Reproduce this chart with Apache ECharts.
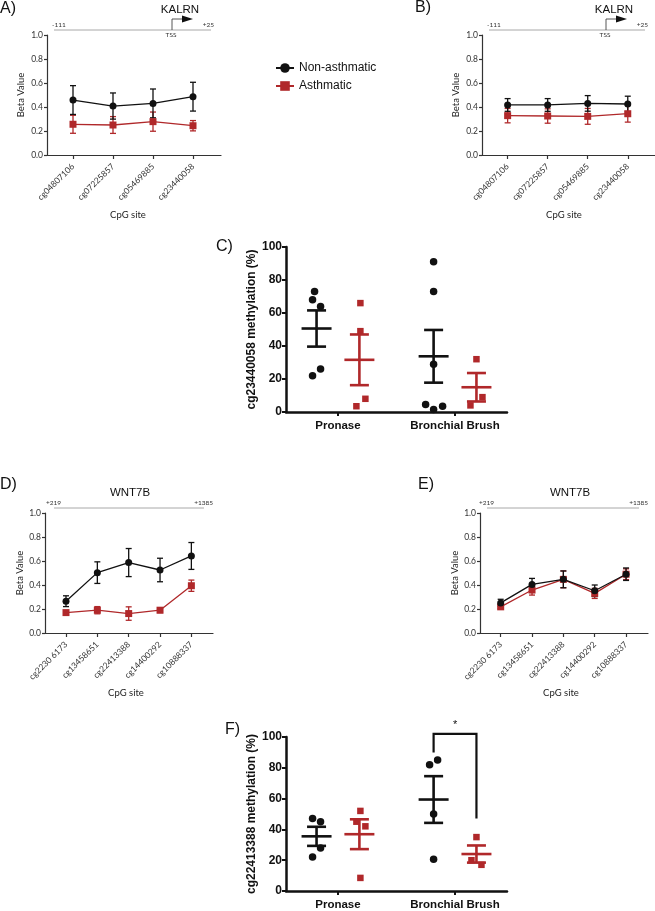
<!DOCTYPE html>
<html><head><meta charset="utf-8">
<script src="https://cdn.jsdelivr.net/npm/echarts@6/dist/echarts.min.js"></script>
<style>html,body{margin:0;padding:0;background:#fff}#chart{width:655px;height:911px}</style>
</head><body><div id="chart"></div>
<script>
// ---------- data ----------
const cpgKalrn = ['cg04807106', 'cg07225857', 'cg05469885', 'cg23440058'];
const aNonMean = [0.458, 0.408, 0.43, 0.486];
const aNonErr  = [0.12, 0.109, 0.12, 0.12];
const aAstMean = [0.256, 0.25, 0.278, 0.244];
const aAstErr  = [0.075, 0.07, 0.08, 0.043];
const bNonMean = [0.417, 0.417, 0.43, 0.425];
const bNonErr  = [0.053, 0.053, 0.065, 0.065];
const bAstMean = [0.328, 0.325, 0.322, 0.344];
const bAstErr  = [0.06, 0.06, 0.066, 0.07];

const cpgWnt = ['cg2230 6173', 'cg13458651', 'cg22413388', 'cg14400292', 'cg10888337'];
const dNonMean = [0.265, 0.503, 0.587, 0.525, 0.642];
const dNonErr  = [0.045, 0.09, 0.117, 0.098, 0.112];
const dAstMean = [0.17, 0.19, 0.162, 0.19, 0.394];
const dAstErr  = [0.012, 0.03, 0.056, 0.02, 0.047];
const eNonMean = [0.251, 0.405, 0.447, 0.352, 0.49];
const eNonErr  = [0.03, 0.05, 0.07, 0.048, 0.052];
const eAstMean = [0.218, 0.358, 0.447, 0.33, 0.49];
const eAstErr  = [0.015, 0.042, 0.07, 0.042, 0.045];

const sampleGroups = ['Pronase', 'Bronchial Brush'];
const cPronNon = [73, 68, 64, 22, 26];
const cPronAst = [66, 49, 8, 3.5];
const cBronNon = [91, 73, 29, 4.5, 1.5, 3.5];
const cBronAst = [32, 4, 9];
const fPronNon = [47, 45, 28, 22];
const fPronAst = [52, 45, 42, 8.5];
const fBronNon = [82, 85, 50, 20.6];
const fBronAst = [35, 20, 17];

const yTicksBeta = [0, 0.2, 0.4, 0.6, 0.8, 1.0];

// ---------- styling (pixel jitter of dots, not data) ----------
const cPronNonJit = [-2, -4, 4, -4, 4];
const cPronAstJit = [1, 1, 6, -3];
const cBronNonJit = [0, 0, 0, -8, 0, 9];
const cBronAstJit = [0, -6, 6];
const fPronNonJit = [-4, 4, 4, -4];
const fPronAstJit = [1, -3, 6, 1];
const fBronNonJit = [-4, 4, 0, 0];
const fBronAstJit = [0, -5, 5];

const BLACK = '#111', RED = '#b0282a', AX = '#333';
const SMALL = 'Lato';
const SIDE = 0.183;

function errBar(color, capW, lw) {
  return function (params, api) {
    const x = api.value(0), m = api.value(1), e = api.value(2);
    const hi = api.coord([x, m + e]), lo = api.coord([x, m - e]);
    const cx = hi[0];
    const style = { stroke: color, lineWidth: lw };
    return { type: 'group', children: [
      { type: 'line', shape: { x1: cx, y1: hi[1], x2: cx, y2: lo[1] }, style },
      { type: 'line', shape: { x1: cx - capW, y1: hi[1], x2: cx + capW, y2: hi[1] }, style },
      { type: 'line', shape: { x1: cx - capW, y1: lo[1], x2: cx + capW, y2: lo[1] }, style }
    ]};
  };
}
function meanSem(color) {
  return function (params, api) {
    const x = api.value(0), m = api.value(1), s = api.value(2);
    const c = api.coord([x, m]), hi = api.coord([x, m + s]), lo = api.coord([x, m - s]);
    const style = { stroke: color, lineWidth: 2.6 };
    return { type: 'group', children: [
      { type: 'line', shape: { x1: c[0] - 15, y1: c[1], x2: c[0] + 15, y2: c[1] }, style },
      { type: 'line', shape: { x1: c[0], y1: hi[1], x2: c[0], y2: lo[1] }, style },
      { type: 'line', shape: { x1: c[0] - 9.5, y1: hi[1], x2: c[0] + 9.5, y2: hi[1] }, style },
      { type: 'line', shape: { x1: c[0] - 9.5, y1: lo[1], x2: c[0] + 9.5, y2: lo[1] }, style }
    ]};
  };
}
const mean = a => a.reduce((s, v) => s + v, 0) / a.length;
const sem = a => { const m = mean(a); return Math.sqrt(a.reduce((s, v) => s + (v - m) * (v - m), 0) / (a.length - 1) / a.length); };

function lineXAxis(g, min, max, labels) {
  const idx = labels.map((_, i) => i);
  return { type: 'value', gridIndex: g, min, max, splitLine: { show: false },
    axisLine: { onZero: false, lineStyle: { color: AX, width: 1.2 } },
    axisTick: { customValues: idx, length: 4, lineStyle: { color: AX, width: 1.2 } },
    axisLabel: { customValues: idx, formatter: v => labels[Math.round(v)] ?? '', rotate: 45, fontSize: 8.5,
      color: '#333', fontFamily: SMALL, margin: 10 } };
}
function betaYAxis(g, gap) {
  return { type: 'value', gridIndex: g, min: 0, max: 1, splitLine: { show: false },
    axisLine: { show: true, onZero: false, lineStyle: { color: AX, width: 1.2 } },
    axisTick: { show: true, customValues: yTicksBeta, length: 3, lineStyle: { color: AX, width: 1.2 } },
    axisLabel: { customValues: yTicksBeta, formatter: v => v.toFixed(1), fontSize: 8.5, color: '#333', fontFamily: SMALL, margin: 4 },
    name: 'Beta Value', nameLocation: 'middle', nameGap: gap,
    nameTextStyle: { fontSize: 9.5, color: '#222', fontFamily: SMALL } };
}
function pctXAxis(g) {
  return { type: 'value', gridIndex: g, min: -0.444, max: 1.444, splitLine: { show: false },
    axisLine: { onZero: false, lineStyle: { color: BLACK, width: 2.5 } },
    axisTick: { customValues: [0, 1], length: 4, lineStyle: { color: BLACK, width: 2 } },
    axisLabel: { customValues: [0, 1], formatter: v => sampleGroups[Math.round(v)] ?? '', fontSize: 11.5,
      fontWeight: 'bold', color: BLACK, margin: 8 } };
}
function pctYAxis(g, name) {
  return { type: 'value', gridIndex: g, min: 0, max: 100, interval: 20, splitLine: { show: false },
    axisLine: { show: true, onZero: false, lineStyle: { color: BLACK, width: 2.5 } },
    axisTick: { show: true, length: 4, lineStyle: { color: BLACK, width: 2 } },
    axisLabel: { fontSize: 12, fontWeight: 'bold', color: BLACK, margin: 4 },
    name, nameLocation: 'middle', nameGap: 25,
    nameTextStyle: { fontSize: 12, fontWeight: 'bold', color: BLACK } };
}

function linePanel(g, nM, nE, aM, aE) {
  const pts = arr => arr.map((v, i) => [i, v]);
  const eb = (m, e) => m.map((v, i) => [i, v, e[i]]);
  return [
    { type: 'custom', xAxisIndex: g, yAxisIndex: g, renderItem: errBar(RED, 3, 1.3), data: eb(aM, aE), encode: { x: 0, y: 1 }, z: 2, silent: true },
    { type: 'custom', xAxisIndex: g, yAxisIndex: g, renderItem: errBar(BLACK, 3, 1.3), data: eb(nM, nE), encode: { x: 0, y: 1 }, z: 3, silent: true },
    { type: 'line', name: 'Asthmatic', xAxisIndex: g, yAxisIndex: g, data: pts(aM), symbol: 'rect', symbolSize: 7,
      lineStyle: { color: RED, width: 1.3 }, itemStyle: { color: RED }, z: 4 },
    { type: 'line', name: 'Non-asthmatic', xAxisIndex: g, yAxisIndex: g, data: pts(nM), symbol: 'circle', symbolSize: 7,
      lineStyle: { color: BLACK, width: 1.3 }, itemStyle: { color: BLACK }, z: 5 }
  ];
}
function dotPanel(g, sets) {
  const out = [];
  sets.forEach(([vals, jit, gi, side, color, sym]) => {
    const x = gi + side;
    out.push({ type: 'scatter', xAxisIndex: g, yAxisIndex: g, symbol: sym, symbolSize: sym === 'circle' ? 7.5 : 6.5,
      itemStyle: { color, opacity: 1 }, z: 3,
      data: vals.map((v, i) => ({ value: [x, v], symbolOffset: [jit[i], 0] })) });
    out.push({ type: 'custom', xAxisIndex: g, yAxisIndex: g, renderItem: meanSem(color), z: 4, silent: true,
      data: [[x, mean(vals), sem(vals)]], encode: { x: 0, y: 1 } });
  });
  return out;
}

const series = [
  ...linePanel(0, aNonMean, aNonErr, aAstMean, aAstErr),
  ...linePanel(1, bNonMean, bNonErr, bAstMean, bAstErr),
  ...dotPanel(2, [
    [cPronNon, cPronNonJit, 0, -SIDE, BLACK, 'circle'],
    [cPronAst, cPronAstJit, 0, SIDE, RED, 'rect'],
    [cBronNon, cBronNonJit, 1, -SIDE, BLACK, 'circle'],
    [cBronAst, cBronAstJit, 1, SIDE, RED, 'rect']
  ]),
  ...linePanel(3, dNonMean, dNonErr, dAstMean, dAstErr),
  ...linePanel(4, eNonMean, eNonErr, eAstMean, eAstErr),
  ...dotPanel(5, [
    [fPronNon, fPronNonJit, 0, -SIDE, BLACK, 'circle'],
    [fPronAst, fPronAstJit, 0, SIDE, RED, 'rect'],
    [fBronNon, fBronNonJit, 1, -SIDE, BLACK, 'circle'],
    [fBronAst, fBronAstJit, 1, SIDE, RED, 'rect']
  ]),
  { type: 'custom', xAxisIndex: 5, yAxisIndex: 5, clip: false, silent: true, z: 5,
    data: [[1 - SIDE, 1 + SIDE, 90, 47, 102]], encode: { x: 0, y: 4 },
    renderItem: (params, api) => {
      const l0 = api.coord([api.value(0), api.value(2)]);
      const l1 = api.coord([api.value(0), api.value(4)]);
      const r1 = api.coord([api.value(1), api.value(4)]);
      const r0 = api.coord([api.value(1), api.value(3)]);
      return { type: 'group', children: [
        { type: 'polyline', shape: { points: [l0, l1, r1, r0] }, style: { stroke: BLACK, lineWidth: 2.2, fill: null } },
        { type: 'text', style: { text: '*', x: (l1[0] + r1[0]) / 2, y: l1[1] - 3, align: 'center', verticalAlign: 'bottom', fontSize: 11, fill: BLACK } }
      ]};
    } }
];

function geneGraphics(x0, x1, leftTxt, rightTxt) {
  return [
    { type: 'line', shape: { x1: x0, y1: 30, x2: x1, y2: 30 }, style: { stroke: '#a8a8a8', lineWidth: 1 } },
    { type: 'text', x: x0 - 2, y: 25, style: { text: leftTxt, fontSize: 6.5, fill: '#333', align: 'left', verticalAlign: 'middle', fontFamily: SMALL } },
    { type: 'text', x: x1 + 3, y: 25, style: { text: rightTxt, fontSize: 6.5, fill: '#333', align: 'right', verticalAlign: 'middle', fontFamily: SMALL } }
  ];
}
function tss(x, labelX) {
  return [
    { type: 'polyline', shape: { points: [[x, 30], [x, 19], [x + 11, 19]] }, style: { stroke: '#444', lineWidth: 0.9, fill: null } },
    { type: 'polygon', shape: { points: [[x + 10, 15.5], [x + 21, 19], [x + 10, 22.5]] }, style: { fill: '#111' } },
    { type: 'text', x: x - 1, y: 34.5, style: { text: 'TSS', fontSize: 6.5, fill: '#333', align: 'center', verticalAlign: 'middle', fontFamily: SMALL } },
    { type: 'text', x: labelX, y: 10, style: { text: 'KALRN', fontSize: 11.5, fill: '#111', align: 'center', verticalAlign: 'middle', fontFamily: 'Liberation Sans' } }
  ];
}
function wnt(cx, x0, x1) {
  return [
    { type: 'text', x: cx, y: 493, style: { text: 'WNT7B', fontSize: 11.5, fill: '#111', align: 'center', verticalAlign: 'middle', fontFamily: 'Liberation Sans' } },
    { type: 'line', shape: { x1: x0, y1: 508, x2: x1, y2: 508 }, style: { stroke: '#a8a8a8', lineWidth: 1 } },
    { type: 'text', x: x0 - 8, y: 503, style: { text: '+219', fontSize: 6.5, fill: '#333', align: 'left', verticalAlign: 'middle', fontFamily: SMALL } },
    { type: 'text', x: x1 + 9, y: 503, style: { text: '+1385', fontSize: 6.5, fill: '#333', align: 'right', verticalAlign: 'middle', fontFamily: SMALL } }
  ];
}
const panelLabel = (t, x, y) => ({ type: 'text', x, y, style: { text: t, fontSize: 16, fill: '#111', align: 'left', verticalAlign: 'middle', fontFamily: 'Liberation Sans' } });
const cpgLabel = (x, y) => ({ type: 'text', x, y, style: { text: 'CpG site', fontSize: 9.5, fill: '#222', align: 'center', verticalAlign: 'middle', fontFamily: SMALL } });

const option = {
  animation: false,
  backgroundColor: '#fff',
  textStyle: { fontFamily: 'Liberation Sans' },
  legend: { data: ['Non-asthmatic', 'Asthmatic'], left: 270, top: 57, orient: 'vertical', itemGap: 6,
    itemWidth: 18, itemHeight: 12, selectedMode: false,
    textStyle: { fontSize: 12, color: '#111', fontFamily: 'Liberation Sans' } },
  grid: [
    { left: 47, top: 35, width: 174, height: 120 },
    { left: 482, top: 35, width: 173, height: 120 },
    { left: 286, top: 247, width: 221, height: 165 },
    { left: 45, top: 513, width: 168, height: 120 },
    { left: 480, top: 513, width: 168, height: 120 },
    { left: 286, top: 737, width: 221, height: 156 }
  ],
  xAxis: [
    lineXAxis(0, -0.65, 3.7, cpgKalrn),
    lineXAxis(1, -0.64, 3.68, cpgKalrn),
    pctXAxis(2),
    lineXAxis(3, -0.67, 4.69, cpgWnt),
    lineXAxis(4, -0.66, 4.7, cpgWnt),
    pctXAxis(5)
  ],
  yAxis: [
    betaYAxis(0, 21),
    betaYAxis(1, 21),
    pctYAxis(2, 'cg23440058 methylation (%)'),
    betaYAxis(3, 20),
    betaYAxis(4, 20),
    pctYAxis(5, 'cg22413388 methylation (%)')
  ],
  series,
  graphic: [
    panelLabel('A)', 0, 9), panelLabel('B)', 415, 8), panelLabel('C)', 216, 247),
    panelLabel('D)', 0, 485), panelLabel('E)', 418, 485), panelLabel('F)', 225, 730),
    ...geneGraphics(54, 211, '-111', '+25'), ...tss(172, 180),
    ...geneGraphics(489, 645, '-111', '+25'), ...tss(606, 614),
    ...wnt(130, 54, 204), ...wnt(570, 487, 639),
    cpgLabel(128, 215), cpgLabel(564, 215), cpgLabel(126, 693), cpgLabel(561, 693)
  ]
};
const chart = echarts.init(document.getElementById('chart'), null, { renderer: 'canvas' });
chart.setOption(option);
</script></body></html>
